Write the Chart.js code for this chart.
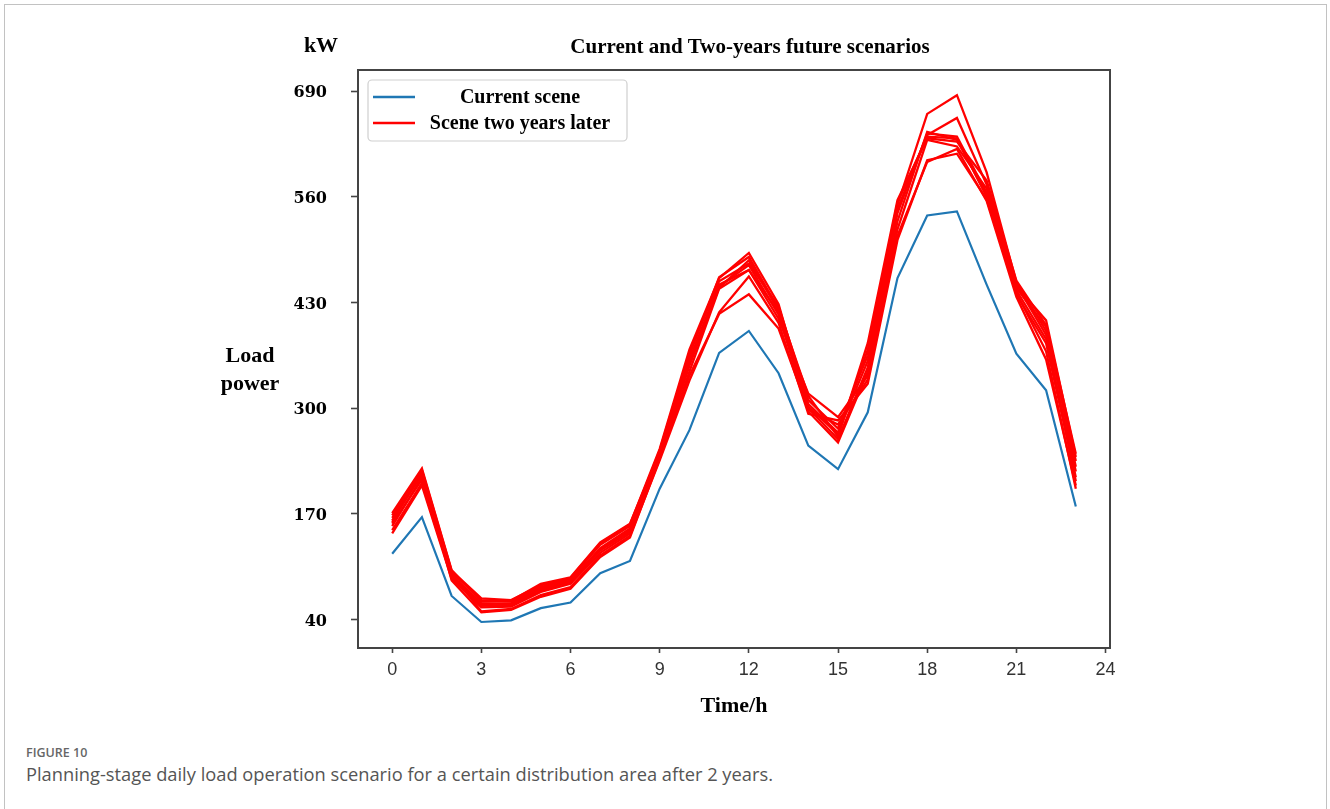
<!DOCTYPE html>
<html>
<head>
<meta charset="utf-8">
<script src="https://cdn.jsdelivr.net/npm/chart.js@4.4.0/dist/chart.umd.min.js"></script>
<style>
  html, body { margin: 0; padding: 0; background: #fff; width: 1330px; height: 809px; overflow: hidden; }
  #frame { position: absolute; left: 4px; top: 4px; width: 1323px; height: 840px; border: 1.5px solid #c2c2c2; border-bottom: none; box-sizing: border-box; }
  #wrap { position: absolute; left: 0; top: 0; width: 1330px; height: 740px; }
  #figno { position: absolute; left: 26px; top: 744px; font: 600 12.5px "Open Sans", sans-serif; color: #666; }
  #caption { position: absolute; left: 26px; top: 761px; font: 18.3px "Open Sans", sans-serif; color: #555; }
</style>
</head>
<body>
<div id="frame"></div>
<div id="wrap"><canvas id="chart"></canvas></div>
<div id="figno">FIGURE 10</div>
<div id="caption">Planning-stage daily load operation scenario for a certain distribution area after 2 years.</div>
<script>
// Hours of the day
const hours = [0, 1, 2, 3, 4, 5, 6, 7, 8, 9, 10, 11, 12, 13, 14, 15, 16, 17, 18, 19, 20, 21, 22, 23];

// Current daily load (kW)
const currentScene = [121, 166, 69, 37, 39, 54, 61, 97, 112, 201, 273, 368, 395, 343, 254, 225, 295, 460, 537, 542, 452, 367, 322, 179];

// Load scenarios two years later (kW)
const futureA = [160, 222, 98, 64, 62, 80, 90, 132, 155, 248, 368, 456, 478, 425, 310, 275, 365, 550, 662, 685, 590, 455, 395, 235];
const futureB = [155, 215, 95, 60, 60, 78, 88, 128, 152, 245, 360, 452, 470, 418, 305, 270, 358, 545, 636, 657, 575, 448, 400, 228];
const futureC = [168, 224, 100, 66, 64, 82, 91, 134, 157, 250, 372, 460, 491, 428, 300, 262, 350, 540, 638, 634, 565, 450, 408, 240];
const futureD = [150, 208, 92, 58, 57, 76, 86, 126, 150, 242, 355, 448, 482, 420, 302, 268, 372, 553, 634, 632, 560, 445, 385, 222];
const futureE = [146, 205, 90, 55, 56, 74, 84, 122, 146, 240, 352, 450, 476, 415, 296, 258, 345, 530, 640, 630, 562, 440, 380, 215];
const futureF = [158, 212, 94, 57, 58, 77, 87, 125, 148, 240, 340, 416, 440, 398, 298, 280, 335, 512, 603, 619, 555, 437, 360, 205];
const futureG = [162, 218, 96, 50, 53, 70, 80, 119, 143, 236, 334, 418, 462, 405, 293, 285, 330, 507, 605, 613, 557, 442, 370, 201];
const futureH = [171, 226, 101, 62, 63, 84, 92, 135, 158, 246, 365, 461, 486, 422, 315, 265, 380, 556, 632, 628, 580, 457, 402, 244];
const futureI = [165, 220, 88, 49, 52, 68, 78, 117, 141, 238, 345, 447, 470, 410, 318, 289, 340, 520, 630, 622, 570, 452, 390, 210];
const futureScenes = [futureA, futureB, futureC, futureD, futureE, futureF, futureG, futureH, futureI];

// Axis ticks
const xTicks = [0, 3, 6, 9, 12, 15, 18, 21, 24];
const yTicks = [40, 170, 300, 430, 560, 690];

// Text
const titleText = 'Current and Two-years future scenarios';
const unitText = 'kW';
const yTitleLines = ['Load', 'power'];
const xTitleText = 'Time/h';
const currentLabel = 'Current scene';
const futureLabel = 'Scene two years later';

const BLUE = '#1f77b4';
const RED = '#ff0000';

const toPoints = vals => hours.map((h, i) => ({ x: h, y: vals[i] }));

const datasets = [
  { label: currentLabel, data: toPoints(currentScene), borderColor: BLUE, borderWidth: 2.2, order: 10 }
].concat(futureScenes.map((s, k) => ({
  label: futureLabel, data: toPoints(s), borderColor: RED, borderWidth: 2.3, order: k
})));

// Frame, title, side labels and in-axes legend
const decor = {
  id: 'decor',
  afterDraw(chart) {
    const { ctx, chartArea: a } = chart;
    ctx.save();
    ctx.strokeStyle = '#444';
    ctx.lineWidth = 2;
    ctx.strokeRect(a.left, a.top, a.right - a.left, a.bottom - a.top);

    ctx.fillStyle = '#000';
    ctx.textAlign = 'center';
    ctx.textBaseline = 'middle';
    ctx.font = 'bold 21px "Liberation Serif"';
    ctx.fillText(titleText, 750, 48);
    ctx.font = 'bold 22px "Liberation Serif"';
    ctx.fillText(unitText, 321, 46);
    ctx.fillText(yTitleLines[0], 250, 356);
    ctx.fillText(yTitleLines[1], 250, 384);

    // legend box
    const lx = 368, ly = 80, lw = 259, lh = 61;
    ctx.beginPath();
    ctx.roundRect(lx, ly, lw, lh, 4);
    ctx.fillStyle = 'rgba(255,255,255,0.85)';
    ctx.fill();
    ctx.strokeStyle = '#cfcfcf';
    ctx.lineWidth = 1.2;
    ctx.stroke();
    const entries = [chart.data.datasets[0], chart.data.datasets[1]];
    const rows = [97, 123];
    ctx.font = 'bold 20px "Liberation Serif"';
    entries.forEach((ds, i) => {
      ctx.beginPath();
      ctx.moveTo(373, rows[i]);
      ctx.lineTo(415, rows[i]);
      ctx.strokeStyle = ds.borderColor;
      ctx.lineWidth = 2.6;
      ctx.stroke();
      ctx.fillStyle = '#000';
      ctx.fillText(ds.label, 520, rows[i] + 1);
    });
    ctx.restore();
  }
};

new Chart(document.getElementById('chart'), {
  type: 'line',
  data: { datasets },
  options: {
    responsive: true,
    maintainAspectRatio: false,
    animation: false,
    elements: { point: { radius: 0 }, line: { tension: 0 } },
    layout: { padding: { left: 228, right: 220, top: 70, bottom: 12 } },
    plugins: { legend: { display: false }, tooltip: { enabled: false }, title: { display: false } },
    scales: {
      x: {
        type: 'linear',
        min: -1.15,
        max: 24.15,
        afterBuildTicks: s => { s.ticks = xTicks.map(v => ({ value: v })); },
        afterFit: s => { s.height = 80; },
        border: { display: false },
        grid: { drawOnChartArea: false, tickLength: 5, tickColor: '#444', tickWidth: 1.6 },
        ticks: { color: '#333', padding: 6, maxRotation: 0, font: { family: '"Liberation Sans"', size: 18 } },
        title: { display: true, text: xTitleText, color: '#000', padding: { top: 0, bottom: 8 },
                 font: { family: '"Liberation Serif"', size: 22, weight: 'bold' } }
      },
      y: {
        type: 'linear',
        min: 5,
        max: 716,
        afterBuildTicks: s => { s.ticks = yTicks.map(v => ({ value: v })); },
        afterFit: s => { s.width = 130; },
        border: { display: false },
        grid: { drawOnChartArea: false, tickLength: 7, tickColor: '#444', tickWidth: 1.6 },
        ticks: { color: '#000', padding: 24, labelOffset: 2, font: { family: '"DejaVu Serif"', size: 16, weight: 'bold' } }
      }
    }
  },
  plugins: [decor]
});
</script>
</body>
</html>
